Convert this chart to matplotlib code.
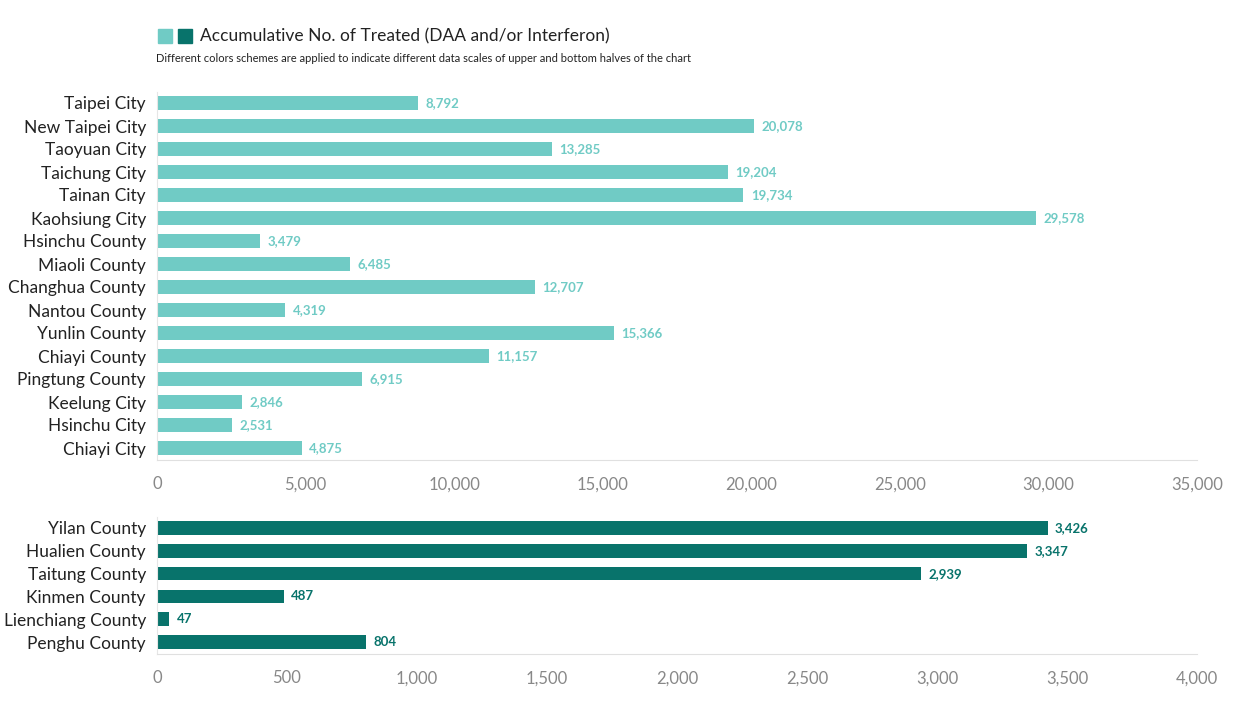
import matplotlib
matplotlib.use('Agg')
import matplotlib.pyplot as plt
from matplotlib.patches import Rectangle

plt.rcParams['font.family'] = ['Lato', 'DejaVu Sans']

top_names = ['Taipei City', 'New Taipei City', 'Taoyuan City', 'Taichung City', 'Tainan City',
             'Kaohsiung City', 'Hsinchu County', 'Miaoli County', 'Changhua County', 'Nantou County',
             'Yunlin County', 'Chiayi County', 'Pingtung County', 'Keelung City', 'Hsinchu City',
             'Chiayi City']
top_vals = [8792, 20078, 13285, 19204, 19734, 29578, 3479, 6485, 12707, 4319,
            15366, 11157, 6915, 2846, 2531, 4875]
bot_names = ['Yilan County', 'Hualien County', 'Taitung County', 'Kinmen County',
             'Lienchiang County', 'Penghu County']
bot_vals = [3426, 3347, 2939, 487, 47, 804]

light = '#70cbc5'
dark = '#08736b'

fig = plt.figure(figsize=(12.4, 7.15), dpi=100)
left, width = 157 / 1240, 1040 / 1240
ax1 = fig.add_axes([left, 1 - 459.5 / 715, width, 368 / 715])
ax2 = fig.add_axes([left, 1 - 653.5 / 715, width, 137 / 715])


def draw(ax, names, vals, color, xmax, step, off):
    y = list(range(len(names)))
    ax.barh(y, vals, height=0.6, color=color)
    for yi, v in zip(y, vals):
        ax.text(v + off, yi, f'{v:,}', va='center', ha='left', fontsize=9.5,
                fontweight='bold', color=color)
    ax.set_ylim(len(names) - 0.5, -0.5)
    ax.set_xlim(0, xmax)
    ax.set_yticks(y)
    ax.set_yticklabels(names, fontsize=12.5, color='#222222')
    ticks = list(range(0, xmax + 1, step))
    ax.set_xticks(ticks)
    ax.set_xticklabels([f'{t:,}' for t in ticks], fontsize=12, color='#888888')
    ax.tick_params(length=0, pad=8)
    ax.tick_params(axis='x', pad=12)
    for s in ['top', 'right']:
        ax.spines[s].set_visible(False)
    ax.spines['left'].set_color('#e6e6e6')
    ax.spines['bottom'].set_color('#e0e0e0')


draw(ax1, top_names, top_vals, light, 35000, 5000, 250)
draw(ax2, bot_names, bot_vals, dark, 4000, 500, 28)

fig.patches.append(Rectangle((158 / 1240, 1 - 43 / 715), 14 / 1240, 14 / 715,
                             transform=fig.transFigure, color=light))
fig.patches.append(Rectangle((178 / 1240, 1 - 43 / 715), 14 / 1240, 14 / 715,
                             transform=fig.transFigure, color=dark))
fig.text(200 / 1240, 1 - 36 / 715, 'Accumulative No. of Treated (DAA and/or Interferon)',
         fontsize=12.5, va='center', color='#222222')
fig.text(156 / 1240, 1 - 58 / 715,
         'Different colors schemes are applied to indicate different data scales of upper and bottom halves of the chart',
         fontsize=8, va='center', color='#222222')

fig.savefig('out.png', dpi=100)
